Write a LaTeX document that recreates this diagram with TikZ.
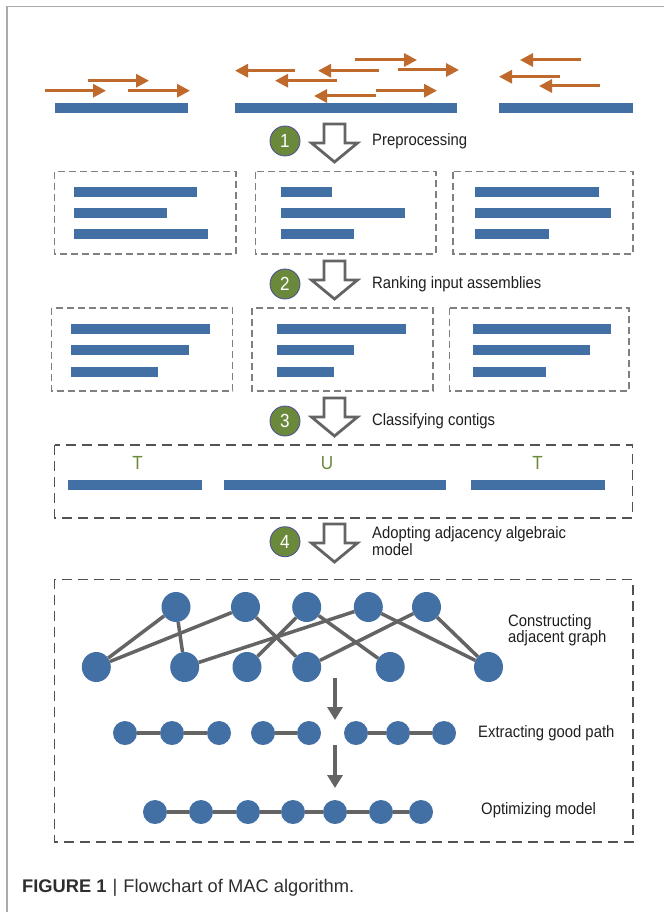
\documentclass[tikz,border=0pt]{standalone}
\usepackage{fontspec}
\setmainfont{Liberation Sans}
\newfontfamily\lab[FakeStretch=0.9]{Liberation Sans}
\usetikzlibrary{arrows.meta}
\definecolor{cblue}{RGB}{66,112,164}
\definecolor{corange}{RGB}{192,105,45}
\definecolor{cgreen}{RGB}{106,137,58}
\definecolor{cgray}{RGB}{100,100,100}
\definecolor{cframe}{RGB}{170,170,170}
\newcommand\ctg[3]{\fill[cblue] (#1,#3-5) rectangle (#2,#3+5);}
\newcommand\hollowarrow[2]{%
  \filldraw[hollow] (#1-10.5,#2) -- (#1+10.5,#2) -- (#1+10.5,#2+19) -- (#1+23,#2+19)
    -- (#1,#2+38) -- (#1-23,#2+19) -- (#1-10.5,#2+19) -- cycle;}
\tikzset{
 read/.style={corange, line width=3pt, -{Triangle[length=13pt,width=13pt]}},
 stepnum/.style={circle, fill=cgreen, draw=black!55!blue!70, line width=0.8pt, minimum size=30pt, inner sep=0pt, text=white, font=\lab\fontsize{19}{19}\selectfont},
 lbl/.style={anchor=west, inner sep=0pt, font=\lab\fontsize{16.5}{14.5}\selectfont, text=black!88, align=left},
 letter/.style={inner sep=0pt, text=cgreen, font=\lab\fontsize{19}{19}\selectfont},
 dbox/.style={draw=black!50, line width=1.3pt, dash pattern=on 7pt off 4pt},
 bigbox/.style={draw=black!68, line width=1.6pt, dash pattern=on 10pt off 6pt},
 gnode/.style={ellipse, fill=cblue, minimum width=29pt, minimum height=30pt, inner sep=0pt},
 snode/.style={circle, fill=cblue, minimum size=24pt, inner sep=0pt},
 gedge/.style={cgray, line width=3.5pt},
 flow/.style={cgray, line width=4pt, -{Triangle[length=13pt,width=15pt]}},
 hollow/.style={draw=cgray, line width=2.8pt, fill=white, line join=miter},
}
\usetikzlibrary{shapes.geometric}
\begin{document}
\begin{tikzpicture}[x=1pt,y=-1pt]
\useasboundingbox (0,0) rectangle (664,912);
\fill[white] (0,0) rectangle (664,912);
% frame
\draw[cframe, line width=1.5pt] (7,912) -- (7,6.5) -- (664,6.5);

% ---- reads and contigs
\ctg{55}{188}{108.5}
\ctg{235}{457}{108.5}
\ctg{499}{633}{108.5}
\draw[read] (45,90.7) -- (106,90.7);
\draw[read] (88,80.7) -- (149,80.7);
\draw[read] (128,90.7) -- (190,90.7);
\draw[read] (295,70.7) -- (235,70.7);
\draw[read] (379,70.7) -- (318,70.7);
\draw[read] (337,80.7) -- (275,80.7);
\draw[read] (355,60) -- (417,60);
\draw[read] (398,70) -- (459,70);
\draw[read] (376,96) -- (314,96);
\draw[read] (376,90.7) -- (437,90.7);
\draw[read] (581,60) -- (520,60);
\draw[read] (560,76.7) -- (499,76.7);
\draw[read] (600,86) -- (539,86);

% ---- step 1
\node[stepnum] (s1) at (285,141) {1};
\hollowarrow{334.5}{124}
\node[lbl] (l1) at (372,141) {Preprocessing};

% ---- row 1 boxes
\draw[dbox] (54.5,171.7) rectangle (236,254);
\draw[dbox] (255.4,171.7) rectangle (436,254);
\draw[dbox] (453,171.7) rectangle (633,254);
\ctg{74.4}{197}{191.7}
\ctg{74.4}{167}{212.5}
\ctg{74.4}{208}{233.5}
\ctg{281}{332}{191.7}
\ctg{281}{405}{212.5}
\ctg{281}{354}{233.5}
\ctg{475}{599}{191.7}
\ctg{475}{611}{212.5}
\ctg{475}{549}{233.5}

% ---- step 2
\node[stepnum] (s2) at (285,284) {2};
\hollowarrow{334.5}{261}
\node[lbl] (l2) at (372,284) {Ranking input assemblies};

% ---- row 2 boxes
\draw[dbox] (51.5,308) rectangle (232.5,391);
\draw[dbox] (252,308) rectangle (433,391);
\draw[dbox] (449.6,308) rectangle (629,391);
\ctg{70.6}{209.5}{328.5}
\ctg{70.6}{188.5}{349.5}
\ctg{70.6}{158}{371.5}
\ctg{277}{405.5}{328.5}
\ctg{277}{354}{349.5}
\ctg{277}{333.5}{371.5}
\ctg{472.5}{611}{328.5}
\ctg{472.5}{590}{349.5}
\ctg{472.5}{546}{371.5}

% ---- step 3
\node[stepnum] (s3) at (285,421) {3};
\hollowarrow{334.5}{398}
\node[lbl] (l3) at (372,421) {Classifying contigs};

% ---- row 3
\draw[bigbox] (54.5,445) rectangle (632.4,517.7);
\node[letter] (t1) at (137.5,463) {T};
\node[letter] (u1) at (327,463) {U};
\node[letter] (t2) at (537.5,463) {T};
\ctg{67.5}{201.5}{484.7}
\ctg{223.7}{446.4}{484.7}
\ctg{470.5}{605}{484.7}

% ---- step 4
\node[stepnum] (s4) at (285,541.7) {4};
\hollowarrow{334.5}{524}
\node[lbl] (l4) at (372,541) {Adopting adjacency algebraic\\model};

% ---- big box
\draw[bigbox] (54.5,579.3) rectangle (633,841.7);

% graph nodes
\node[gnode] (a1) at (176,607) {};
\node[gnode] (a2) at (245.5,607) {};
\node[gnode] (a3) at (306.7,607) {};
\node[gnode] (a4) at (368.3,607) {};
\node[gnode] (a5) at (426.5,607) {};
\node[gnode] (b1) at (96.3,667) {};
\node[gnode] (b2) at (184.7,667) {};
\node[gnode] (b3) at (247,667) {};
\node[gnode] (b4) at (306.7,667) {};
\node[gnode] (b5) at (390.2,667) {};
\node[gnode] (b6) at (488.5,667) {};
\draw[gedge] (a1) -- (b1);
\draw[gedge] (a1) -- (b2);
\draw[gedge] (a2) -- (b1);
\draw[gedge] (a4) -- (b2);
\draw[gedge] (a2) -- (b4);
\draw[gedge] (a3) -- (b3);
\draw[gedge] (a3) -- (b5);
\draw[gedge] (a4) -- (b6);
\draw[gedge] (a5) -- (b4);
\draw[gedge] (a5) -- (b6);
\node[lbl] (l5) at (508,630) {Constructing\\adjacent graph};

\coordinate (f1a) at (335,678);
\coordinate (f1b) at (335,720);
\draw[flow] (f1a) -- (f1b);

% extracting good path
\node[snode] (c1) at (125,733) {};
\node[snode] (c2) at (172,733) {};
\node[snode] (c3) at (219,733) {};
\node[snode] (c4) at (263,733) {};
\node[snode] (c5) at (309,733) {};
\node[snode] (c6) at (356,733) {};
\node[snode] (c7) at (398,733) {};
\node[snode] (c8) at (444,733) {};
\draw[gedge] (c1) -- (c2);
\draw[gedge] (c2) -- (c3);
\draw[gedge] (c4) -- (c5);
\draw[gedge] (c6) -- (c7);
\draw[gedge] (c7) -- (c8);
\node[lbl] (l6) at (478,733) {Extracting good path};

\coordinate (f2a) at (335,745);
\coordinate (f2b) at (335,788);
\draw[flow] (f2a) -- (f2b);

% optimizing model
\node[snode] (d1) at (155,812) {};
\node[snode] (d2) at (201,812) {};
\node[snode] (d3) at (248,812) {};
\node[snode] (d4) at (293,812) {};
\node[snode] (d5) at (335,812) {};
\node[snode] (d6) at (381,812) {};
\node[snode] (d7) at (421,812) {};
\draw[gedge] (d1) -- (d2);
\draw[gedge] (d2) -- (d3);
\draw[gedge] (d3) -- (d4);
\draw[gedge] (d4) -- (d5);
\draw[gedge] (d5) -- (d6);
\draw[gedge] (d6) -- (d7);
\node[lbl] (l7) at (481,810) {Optimizing model};

% caption
\node[anchor=west, inner sep=0pt, text=black!82, font=\fontsize{18.3}{18.3}\selectfont] (cap) at (22,888)
  {\textbf{FIGURE 1}\hspace{6pt}|\hspace{6pt}Flowchart of MAC algorithm.};
\end{tikzpicture}
\end{document}
